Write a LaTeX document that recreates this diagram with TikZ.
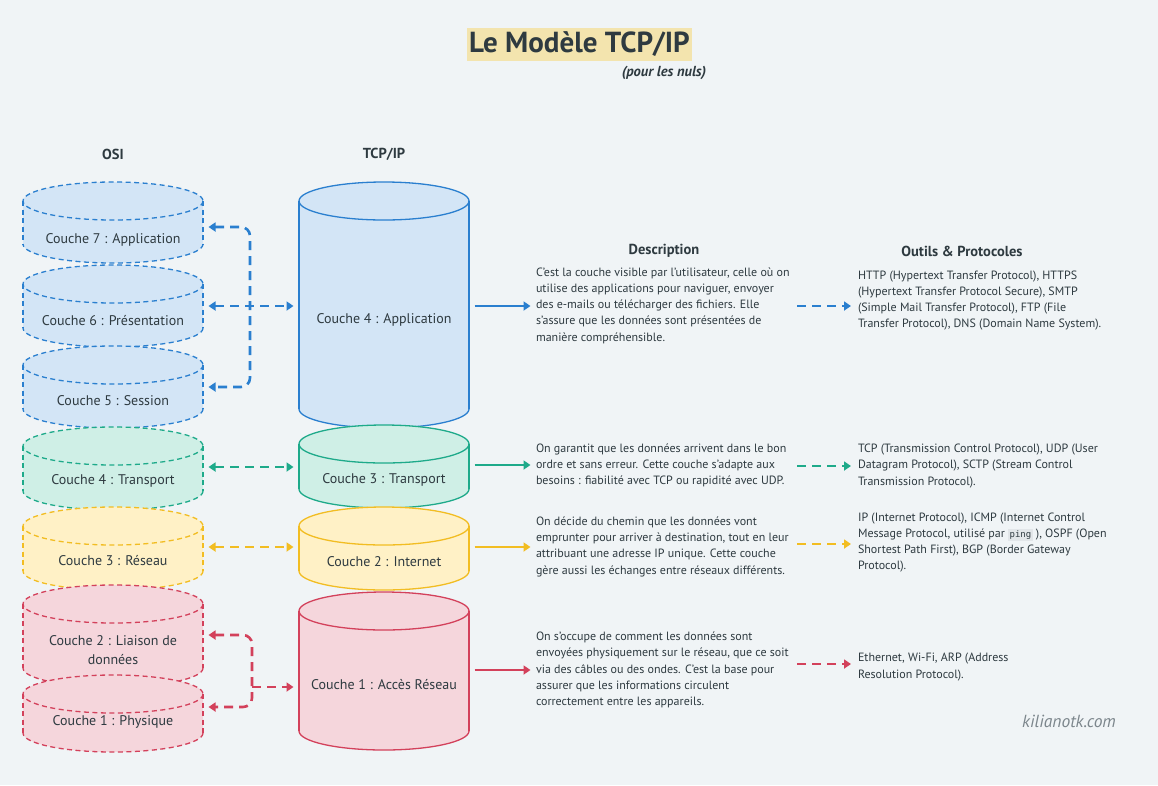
\documentclass[tikz,border=0pt]{standalone}
\usepackage{fontspec}
\setmainfont{PT Sans}
\setmonofont{DejaVu Sans Mono}
\usetikzlibrary{arrows.meta}
\definecolor{bg}{HTML}{F0F4F6}
\definecolor{ink}{HTML}{2E3A40}
\definecolor{hl}{HTML}{F3E4AE}
\definecolor{blueS}{HTML}{2A7FCF}
\definecolor{blueF}{HTML}{D3E5F6}
\definecolor{greenS}{HTML}{1EAA8A}
\definecolor{greenF}{HTML}{CFEFE6}
\definecolor{yelS}{HTML}{F2BD22}
\definecolor{yelF}{HTML}{FFF1C6}
\definecolor{redS}{HTML}{D3415B}
\definecolor{redF}{HTML}{F5D6DC}
\definecolor{codebg}{HTML}{E2E6E9}
\definecolor{wm}{HTML}{7C868C}
\tikzset{
  cylbox/.style={draw=none, inner sep=0pt, outer sep=5.5pt},
  cyltext/.style={text=ink, font=\fontsize{14}{19}\selectfont, align=center, inner sep=0pt},
  osiline/.style={line width=1.3pt, dash pattern=on 5pt off 3.5pt},
  tcpline/.style={line width=1.3pt},
  conn/.style={line width=2.6pt, dash pattern=on 9pt off 6pt, -{Triangle[length=7pt,width=9pt]}},
  connboth/.style={line width=2.6pt, dash pattern=on 9pt off 6pt, {Triangle[length=7pt,width=9pt]}-{Triangle[length=7pt,width=9pt]}},
  solidconn/.style={line width=2.8pt, -{Triangle[length=7pt,width=9pt]}},
  bodytext/.style={text=ink, font=\fontsize{12}{16.3}\selectfont, align=left, inner sep=0pt},
  header/.style={text=ink, font=\bfseries\fontsize{14.5}{16}\selectfont, inner sep=0pt},
}
% #1 name, #2 x1, #3 x2, #4 ytop, #5 ybot, #6 line style, #7 fill, #8 text y, #9 text
\newcommand\mkcyl[9]{%
  \pgfmathsetmacro\cx{(#2+#3)/2}%
  \pgfmathsetmacro\rx{(#3-#2)/2}%
  \pgfmathsetmacro\ytc{#4+19}%
  \pgfmathsetmacro\ybc{#5-19}%
  \pgfmathsetmacro\cy{(#4+#5)/2}%
  \pgfmathsetmacro\ww{#3-#2}%
  \pgfmathsetmacro\hh{#5-#4}%
  \fill[#7] (#2,\ytc) rectangle (#3,\ybc);
  \fill[#7] (\cx,\ybc) ellipse[x radius=\rx, y radius=19];
  \fill[#7] (\cx,\ytc) ellipse[x radius=\rx, y radius=19];
  \begin{scope}
    \clip (#2-4,\ybc) rectangle (#3+4,#5+4);
    \draw[#6] (\cx,\ybc) ellipse[x radius=\rx, y radius=19];
  \end{scope}
  \draw[#6] (#2,\ytc) -- (#2,\ybc) (#3,\ytc) -- (#3,\ybc);
  \draw[#6] (\cx,\ytc) ellipse[x radius=\rx, y radius=19];
  \node[cylbox, minimum width=\ww pt, minimum height=\hh pt] (#1) at (\cx,\cy) {};
  \node[cyltext] (#1t) at (\cx,#8) {#9};
}
\begin{document}
\begin{tikzpicture}[x=1pt,y=-1pt]
\fill[bg] (0,0) rectangle (1158,785);
\useasboundingbox (0,0) rectangle (1158,785);

% title
\node[fill=hl, text=ink, font=\bfseries\fontsize{29}{32}\selectfont, inner xsep=2.5pt, inner ysep=0pt, minimum height=33pt] (title) at (579.5,44.5) {Le Modèle TCP/IP};
\node[text=ink, font=\bfseries\itshape\fontsize{14.5}{16}\selectfont, inner sep=0pt] (sub) at (664,73) {(pour les nuls)};

% headers
\node[header] (hosi) at (113,154) {OSI};
\node[header] (htcp) at (384,154) {TCP/IP};
\node[header] (hdesc) at (664,251) {Description};
\node[header] (hprot) at (962,251) {Outils \& Protocoles};

% OSI cylinders
\mkcyl{o7}{23}{203}{182}{263}{draw=blueS,osiline}{blueF}{240}{Couche 7 : Application}
\mkcyl{o6}{23}{203}{265}{347}{draw=blueS,osiline}{blueF}{321}{Couche 6 : Présentation}
\mkcyl{o5}{23}{203}{346}{428}{draw=blueS,osiline}{blueF}{401}{Couche 5 : Session}
\mkcyl{o4}{23}{203}{427}{510}{draw=greenS,osiline}{greenF}{481}{Couche 4 : Transport}
\mkcyl{o3}{23}{203}{507}{590}{draw=yelS,osiline}{yelF}{561}{Couche 3 : Réseau}
\mkcyl{o2}{23}{203}{585}{687}{draw=redS,osiline}{redF}{650}{Couche 2 : Liaison de\\données}
\mkcyl{o1}{23}{203}{675}{752}{draw=redS,osiline}{redF}{722}{Couche 1 : Physique}

% TCP/IP cylinders
\mkcyl{t4}{299}{469}{182}{428}{draw=blueS,tcpline}{blueF}{320}{Couche 4 : Application}
\mkcyl{t3}{299}{469}{425}{508}{draw=greenS,tcpline}{greenF}{480}{Couche 3 : Transport}
\mkcyl{t2}{299}{469}{507}{590}{draw=yelS,tcpline}{yelF}{562}{Couche 2 : Internet}
\mkcyl{t1}{299}{469}{592}{750}{draw=redS,tcpline}{redF}{685}{Couche 1 : Accès Réseau}

% OSI -> TCP/IP connectors
\coordinate (jb) at (250,306);
\draw[connboth, blueS, rounded corners=9pt] (o7.east |- 0,227) -| (jb) |- (o5.east |- 0,387);
\draw[connboth, blueS] (o6.east |- jb) -- (t4.west |- jb);
\draw[connboth, greenS] (o4.east |- 0,467) -- (t3.west |- 0,467);
\draw[connboth, yelS] (o3.east |- 0,547) -- (t2.west |- 0,547);
\coordinate (jr) at (252,687);
\draw[connboth, redS, rounded corners=9pt] (o2.east |- 0,635) -| (jr) |- (o1.east |- 0,707);
\draw[conn, redS] (jr) -- (t1.west |- jr);

% descriptions
\node[bodytext, anchor=west, outer sep=5.5pt] (d1) at (530.5,305.5) {C’est la couche visible par l’utilisateur, celle où on\\utilise des applications pour naviguer, envoyer\\des e-mails ou télécharger des fichiers. Elle\\s’assure que les données sont présentées de\\manière compréhensible.};
\node[bodytext, anchor=west, outer sep=5.5pt] (d2) at (530.5,465.5) {On garantit que les données arrivent dans le bon\\ordre et sans erreur. Cette couche s’adapte aux\\besoins : fiabilité avec TCP ou rapidité avec UDP.};
\node[bodytext, anchor=west, outer sep=5.5pt] (d3) at (530.5,546.5) {On décide du chemin que les données vont\\emprunter pour arriver à destination, tout en leur\\attribuant une adresse IP unique. Cette couche\\gère aussi les échanges entre réseaux différents.};
\node[bodytext, anchor=west, outer sep=5.5pt] (d4) at (530.5,670) {On s’occupe de comment les données sont\\envoyées physiquement sur le réseau, que ce soit\\via des câbles ou des ondes. C’est la base pour\\assurer que les informations circulent\\correctement entre les appareils.};

\draw[solidconn, blueS] (t4.east |- 0,306) -- (d1.west |- 0,306);
\draw[solidconn, greenS] (t3.east |- 0,465) -- (d2.west |- 0,465);
\draw[solidconn, yelS] (t2.east |- 0,547) -- (d3.west |- 0,547);
\draw[solidconn, redS] (t1.east |- 0,670) -- (d4.west |- 0,670);

% protocols
\node[bodytext, anchor=west, outer sep=7pt] (p1) at (851,300.5) {HTTP (Hypertext Transfer Protocol), HTTPS\\(Hypertext Transfer Protocol Secure), SMTP\\(Simple Mail Transfer Protocol), FTP (File\\Transfer Protocol), DNS (Domain Name System).};
\node[bodytext, anchor=west, outer sep=7pt] (p2) at (851,466) {TCP (Transmission Control Protocol), UDP (User\\Datagram Protocol), SCTP (Stream Control\\Transmission Protocol).};
\node[bodytext, anchor=west, outer sep=7pt] (p3) at (851,542.5) {IP (Internet Protocol), ICMP (Internet Control\\Message Protocol, utilisé par {\setlength\fboxsep{1.5pt}\colorbox{codebg}{\ttfamily\fontsize{9}{10}\selectfont ping}} ), OSPF (Open\\Shortest Path First), BGP (Border Gateway\\Protocol).};
\node[bodytext, anchor=west, outer sep=7pt] (p4) at (851,667) {Ethernet, Wi-Fi, ARP (Address\\Resolution Protocol).};

\coordinate (s1) at (797,306);
\coordinate (s2) at (797,466);
\coordinate (s3) at (797,544);
\coordinate (s4) at (797,664);
\draw[conn, blueS] (s1) -- (p1.west |- s1);
\draw[conn, greenS] (s2) -- (p2.west |- s2);
\draw[conn, yelS] (s3) -- (p3.west |- s3);
\draw[conn, redS] (s4) -- (p4.west |- s4);

% watermark
\node[text=wm, font=\itshape\fontsize{17.5}{20}\selectfont, inner sep=0pt] (wmark) at (1069,721) {kilianotk.com};
\end{tikzpicture}
\end{document}
